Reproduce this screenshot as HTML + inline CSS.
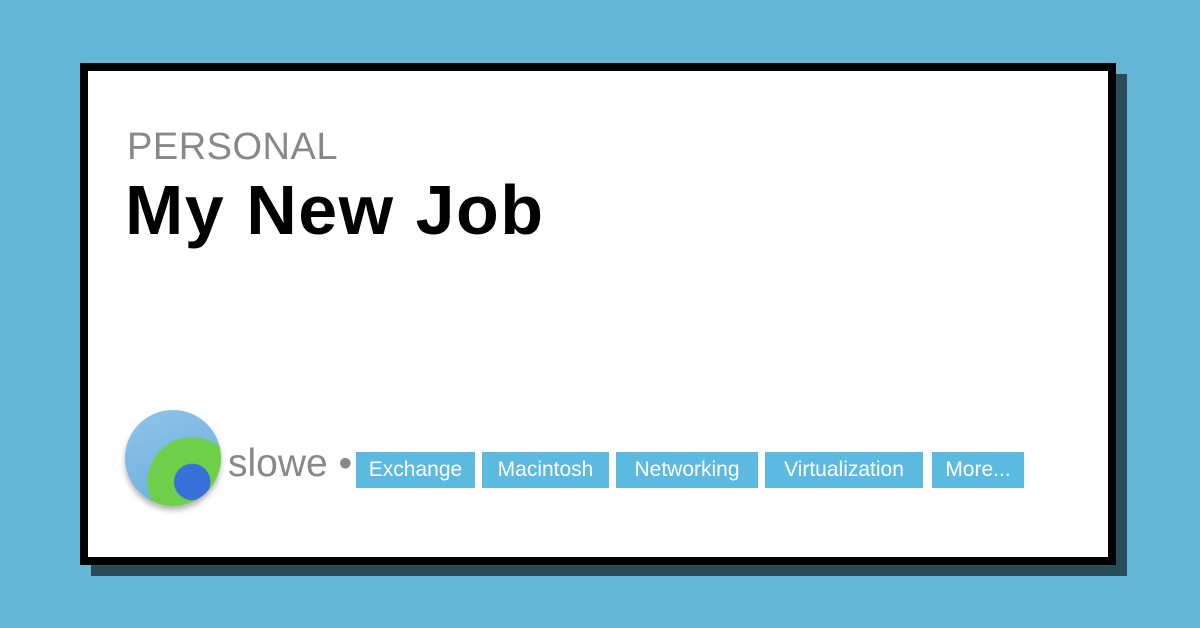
<!DOCTYPE html>
<html><head><style>
body{margin:0;width:1200px;height:628px;background:#65b6d5;position:relative;overflow:hidden;font-family:"Liberation Sans",sans-serif}
.sh{position:absolute;left:91px;top:74px;width:1036px;height:502px;background:#2b4b58}
.card{position:absolute;left:80px;top:63px;width:1020px;height:486px;background:#fff;border:8px solid #000}
.cat{position:absolute;left:127px;top:126px;font-size:38px;color:#888;letter-spacing:0.5px}
.title{position:absolute;left:125px;top:170px;font-size:70px;font-weight:bold;color:#000;letter-spacing:1.5px}
.av{position:absolute;left:125px;top:410px;width:96px;height:96px;border-radius:50%;background:radial-gradient(circle at 70% 75%,#3a6fd8 0 18%,#6fcf4a 19% 45%,transparent 46%),linear-gradient(160deg,#8ec3e8,#6aaee0);box-shadow:0 4px 6px rgba(0,0,0,.3)}
.au{position:absolute;left:228px;top:442px;font-size:39px;color:#888}
.tag{position:absolute;top:452px;height:36px;line-height:36px;background:#5cb9e0;color:#fff;font-size:21px;text-align:center}
</style></head><body>
<div class="sh"></div>
<div class="card"></div>
<div class="cat">PERSONAL</div>
<div class="title">My New Job</div>
<div class="av"></div>
<div class="au">slowe •</div>
<div class="tag" style="left:356px;width:119px">Exchange</div>
<div class="tag" style="left:482px;width:127px">Macintosh</div>
<div class="tag" style="left:616px;width:142px">Networking</div>
<div class="tag" style="left:765px;width:158px">Virtualization</div>
<div class="tag" style="left:932px;width:92px">More...</div>
</body></html>
